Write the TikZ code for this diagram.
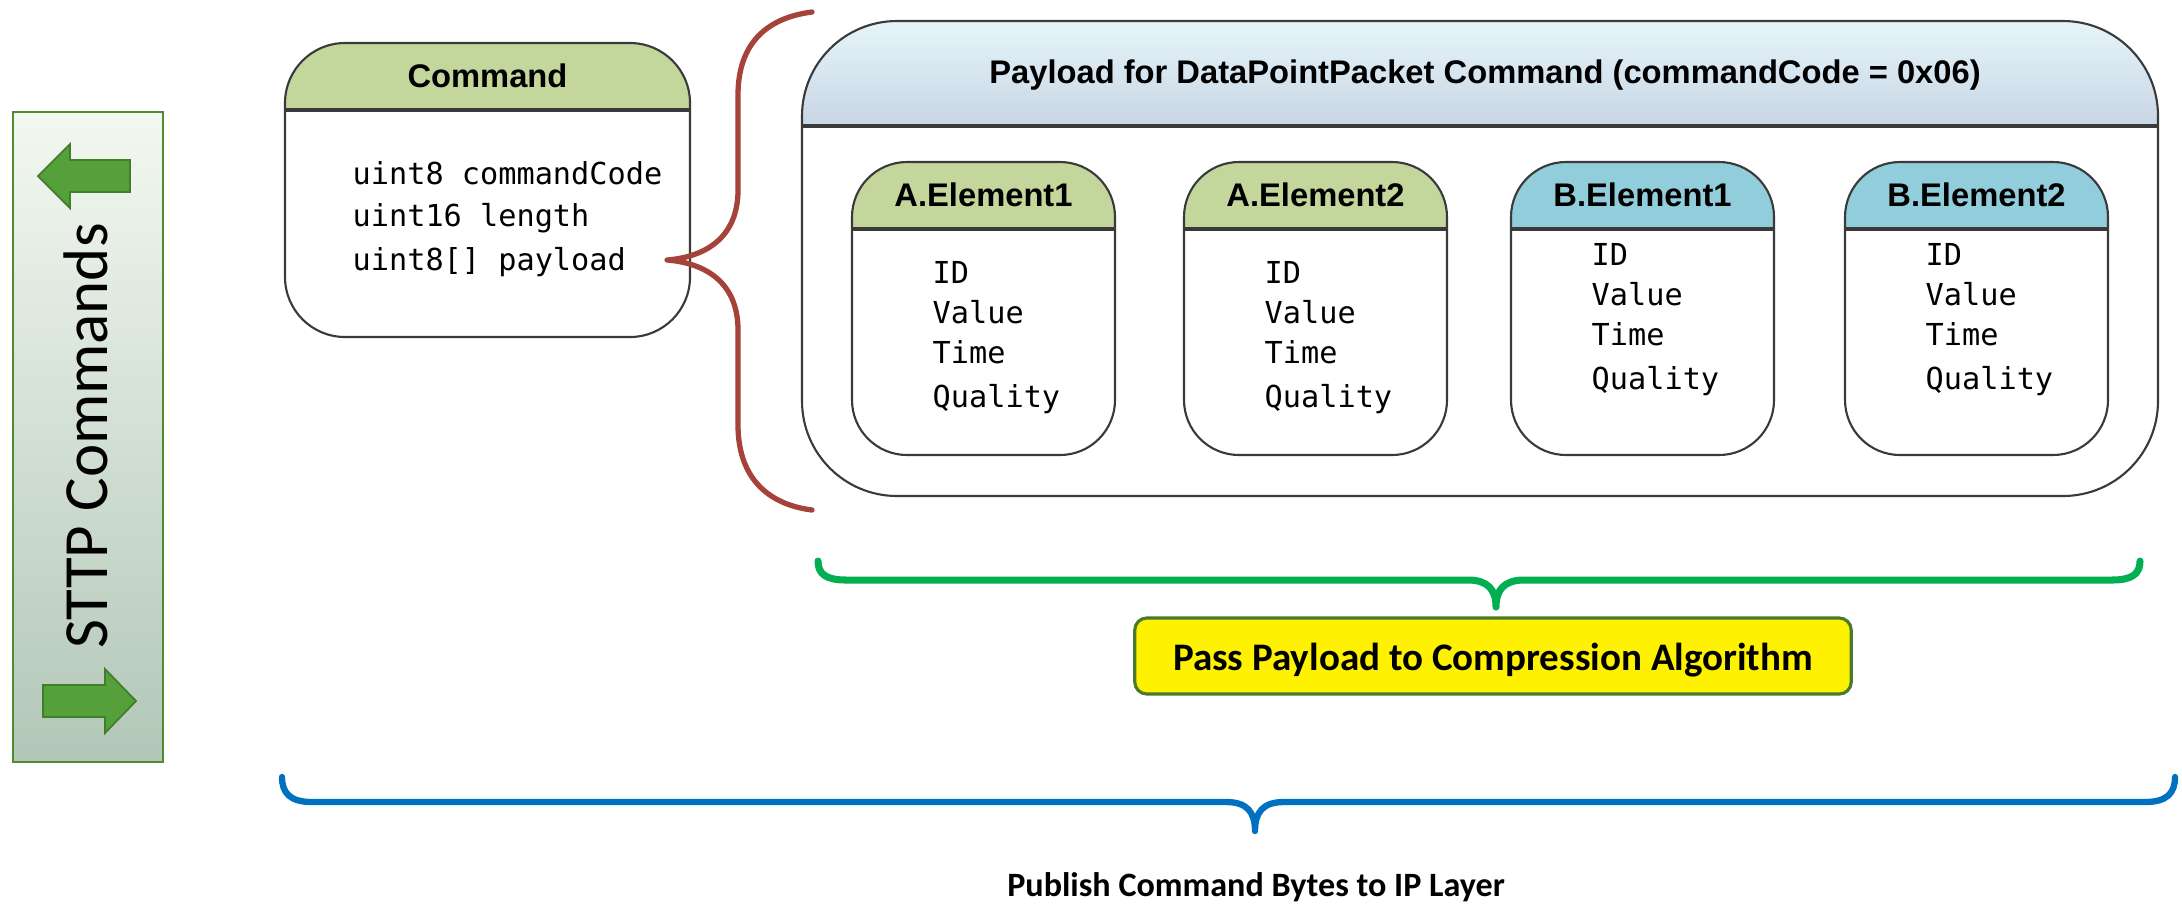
\documentclass[tikz,border=0pt]{standalone}
\usepackage{fontspec}
\setmainfont{Liberation Sans}
\newfontfamily\calfont{Carlito}
\newfontfamily\codefont{DejaVu Sans Mono}

\definecolor{hdrgreen}{HTML}{C3D69B}
\definecolor{hdrblue}{HTML}{92CDDC}
\definecolor{paytop}{HTML}{E6F4FA}
\definecolor{paybot}{HTML}{C8D6E5}
\definecolor{sidetop}{HTML}{F3F8F1}
\definecolor{sidebot}{HTML}{B2C7B7}
\definecolor{sideedge}{HTML}{4F8B33}
\definecolor{arrowfill}{HTML}{56A03C}
\definecolor{arrowedge}{HTML}{3F7F2A}
\definecolor{bracered}{HTML}{A5423A}
\definecolor{bracegreen}{HTML}{00B050}
\definecolor{braceblue}{HTML}{0070C0}
\definecolor{boxedge}{HTML}{3A3A3A}
\definecolor{passedge}{HTML}{4A7A2C}

\tikzset{
  hdrtext/.style={font=\bfseries\fontsize{9.3}{11}\selectfont, inner sep=0pt, anchor=base},
  codetext/.style={font=\codefont\fontsize{8.6}{10}\selectfont, inner sep=0pt, anchor=base west},
  boxline/.style={draw=boxedge, line width=0.6pt},
  sepline/.style={draw=boxedge, line width=0.9pt},
  sidearrow/.style={fill=arrowfill, draw=arrowedge, line width=0.5pt},
  bracepath/.style={line cap=round, line join=round}
}

% rounded box with a coloured header band: left, top, right, header bottom, bottom, radius, header fill
\newcommand\headbox[7]{%
  \begin{scope}
    \clip[rounded corners=#6] (#1,#2) rectangle (#3,#5);
    \fill[white] (#1,#2) rectangle (#3,#5);
    \fill[#7] (#1,#2) rectangle (#3,#4);
  \end{scope}
  \draw[boxline, rounded corners=#6] (#1,#2) rectangle (#3,#5);
  \draw[sepline] (#1,#4) -- (#3,#4);
}

% one data element: name, left x, header colour, title, text baseline offset
\newcommand\element[5]{%
  \headbox{#2}{162}{#2+263}{229}{455}{0.55cm}{#3}
  \node[hdrtext] (#1-title) at (#2+131.5,206) {#4};
  \node[codetext] (#1-id) at (#2+80,283-#5) {ID};
  \node[codetext] (#1-value) at (#2+80,323-#5) {Value};
  \node[codetext] (#1-time) at (#2+80,363-#5) {Time};
  \node[codetext] (#1-quality) at (#2+80,407-#5) {Quality};
}

\begin{document}
\begin{tikzpicture}[x=0.01cm, y=-0.01cm]
\fill[white] (0,0) rectangle (2182,911);
\path[use as bounding box] (0,0) rectangle (2182,911);

% side panel with the two direction arrows
\shade[top color=sidetop, bottom color=sidebot] (13,112) rectangle (163,762);
\draw[sideedge, line width=0.7pt] (13,112) rectangle (163,762);
\filldraw[sidearrow] (38,176) -- (70,144) -- (70,160) -- (130,160) -- (130,192) -- (70,192) -- (70,208) -- cycle;
\filldraw[sidearrow] (136,701) -- (105,669) -- (105,685) -- (43,685) -- (43,717) -- (105,717) -- (105,733) -- cycle;
\node[rotate=90, anchor=base, inner sep=0pt, font=\calfont\fontsize{17.9}{20}\selectfont] (sttp) at (107,436) {STTP Commands};

% command structure
\headbox{285}{43}{690}{110}{337}{0.6cm}{hdrgreen}
\node[hdrtext] (cmd-title) at (487.5,87) {Command};
\node[codetext] (cmd-code) at (352,184) {uint8 commandCode};
\node[codetext] (cmd-len) at (352,226) {uint16 length};
\node[codetext] (cmd-payload) at (352,270) {uint8[] payload};

% payload container
\begin{scope}
  \clip[rounded corners=0.95cm] (802,21) rectangle (2158,496);
  \fill[white] (802,21) rectangle (2158,496);
  \shade[top color=paytop, bottom color=paybot] (802,21) rectangle (2158,126);
\end{scope}
\draw[boxline, rounded corners=0.95cm] (802,21) rectangle (2158,496);
\draw[sepline] (802,126) -- (2158,126);
\node[hdrtext] (pay-title) at (1485,83) {Payload for DataPointPacket Command (commandCode = 0x06)};

\element{a1}{852}{hdrgreen}{A.Element1}{0}
\element{a2}{1184}{hdrgreen}{A.Element2}{0}
\element{b1}{1511}{hdrblue}{B.Element1}{18}
\element{b2}{1845}{hdrblue}{B.Element2}{18}

% brace from the payload field to the payload container
\coordinate (rb-top) at (812,12);
\coordinate (rb-tip) at (667,260);
\coordinate (rb-bot) at (812,510);
\draw[bracered, line width=1.5pt, bracepath]
  (rb-top) .. controls (765,18) and (738,45) .. (738,95)
  -- (738,190) .. controls (738,238) and (705,257) .. (rb-tip)
  .. controls (705,263) and (738,282) .. (738,330)
  -- (738,425) .. controls (738,475) and (765,504) .. (rb-bot);

% brace under the payload
\coordinate (gb-left) at (818,561);
\coordinate (gb-tip) at (1496,607);
\coordinate (gb-right) at (2140,561);
\draw[bracegreen, line width=2pt, bracepath]
  (gb-left) .. controls (818,574) and (826,580) .. (846,580)
  -- (1468,580) .. controls (1488,580) and (1496,590) .. (gb-tip)
  .. controls (1496,590) and (1504,580) .. (1524,580)
  -- (2112,580) .. controls (2132,580) and (2140,574) .. (gb-right);

\node[draw=passedge, line width=0.9pt, fill=yellow, rounded corners=0.12cm,
      minimum width=7.16cm, minimum height=0.76cm, inner sep=0pt] (pass) at (1493,656) {};
\node[anchor=base, inner sep=0pt, font=\calfont\bfseries\fontsize{11.1}{13}\selectfont] (pass-text) at (1493,670) {Pass Payload to Compression Algorithm};

% brace under the whole command
\coordinate (bb-left) at (282,777);
\coordinate (bb-tip) at (1255,831);
\coordinate (bb-right) at (2175,777);
\draw[braceblue, line width=1.8pt, bracepath]
  (bb-left) .. controls (282,793) and (290,802) .. (312,802)
  -- (1226,802) .. controls (1247,802) and (1255,812) .. (bb-tip)
  .. controls (1255,812) and (1263,802) .. (1284,802)
  -- (2145,802) .. controls (2167,802) and (2175,793) .. (bb-right);

\node[anchor=base, inner sep=0pt, font=\calfont\bfseries\fontsize{9.7}{12}\selectfont] (publish) at (1256,896) {Publish Command Bytes to IP Layer};
\end{tikzpicture}
\end{document}
